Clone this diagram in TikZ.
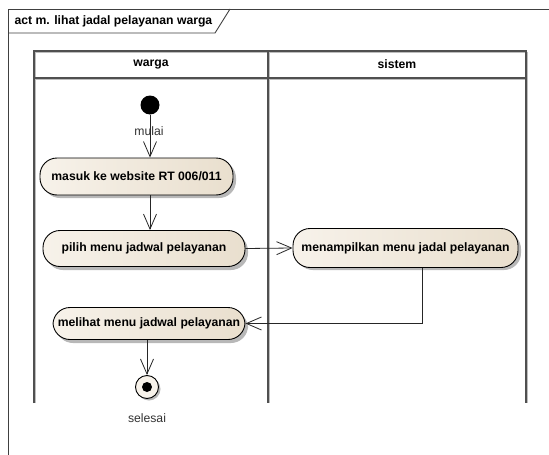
\documentclass[tikz,border=0pt]{standalone}
\usepackage{fontspec}
\setmainfont{Liberation Sans}
\usetikzlibrary{arrows.meta,calc}
\definecolor{actleft}{HTML}{F7F2EA}
\definecolor{actright}{HTML}{E9DFCE}
\definecolor{lanecol}{HTML}{505050}
\definecolor{laneshadow}{HTML}{BDBDBD}
\tikzset{
  txt/.style={font=\fontsize{12.2}{14}\selectfont},
  btxt/.style={font=\fontsize{12.2}{14}\selectfont\bfseries},
  action/.style={btxt, draw=black, line width=0.9pt, rectangle,
    rounded corners=17pt, left color=actleft, right color=actright,
    inner sep=0pt, minimum height=#1},
  action/.default=36pt,
  actshadow/.style={fill=black!28, rounded corners=17pt, draw=none},
  flow/.style={draw=black!85, line width=0.8pt,
    -{Straight Barb[length=15pt,width=13pt,line width=0.8pt]}},
  lane/.style={draw=lanecol, line width=1.6pt},
  lanesh/.style={draw=laneshadow, line width=1pt},
}
\begin{document}
\begin{tikzpicture}[x=1pt,y=-1pt]
\useasboundingbox (0,0) rectangle (549,455);
\fill[white] (0,0) rectangle (549,455);

% diagram frame and title tab
\draw[black!75, line width=0.9pt] (8,455) -- (8,9) -- (549,9);
\draw[black!75, line width=0.9pt] (8,33) -- (215,33) -- (230,9);
\node[btxt, anchor=west] (title) at (11,21) {act m. lihat jadal pelayanan warga};

% swimlanes
\draw[lanesh] (35.5,403) -- (35.5,52.5) -- (527.5,52.5) -- (527.5,403);
\draw[lanesh] (269.5,52.5) -- (269.5,403);
\draw[lanesh] (35.5,79.5) -- (527.5,79.5);
\draw[lane] (34,403) -- (34,51) -- (526,51) -- (526,403);
\draw[lane] (268,51) -- (268,403);
\draw[lane] (34,78) -- (526,78);
\node[btxt] (lwarga) at (151,64.5) {warga};
\node[btxt] (lsistem) at (397,64.5) {sistem};

% shadows behind the actions
\fill[actshadow] (43,161) rectangle (236,198);
\fill[actshadow] (46,234) rectangle (248,270);
\fill[actshadow] (296,232) rectangle (521,270);
\fill[actshadow] (56,311) rectangle (248,343);

% start node
\fill[black] (150,105) circle (9.5pt);
\coordinate (start) at (150,105);
\node[txt, text=black!80] (lmulai) at (149,131) {mulai};

% actions
\node[action=37pt, minimum width=193pt] (masuk) at (136.5,176.5) {masuk ke website RT 006/011};
\node[action=36pt, minimum width=202pt] (pilih) at (144,248.5) {pilih menu jadwal pelayanan};
\node[action=39pt, minimum width=225pt] (tampil) at (405.5,248) {menampilkan menu jadal pelayanan};
\node[action=32pt, minimum width=192pt] (lihat) at (149,323.5) {melihat menu jadwal pelayanan};

% end node
\coordinate (end) at (147,387);
\fill[black!28] (149,389) circle (11.5pt);
\draw[black, line width=0.9pt, fill=actleft] (end) circle (11.5pt);
\fill[black] (end) circle (5pt);
\node[txt, text=black!80] (lselesai) at (147,418) {selesai};

% control flow (shifts are in canvas units, where up is positive)
\draw[flow] ([yshift=-9.5pt]start) -- (start |- masuk.north);
\draw[flow] (masuk.south -| start) -- (pilih.north -| start);
\draw[flow] (pilih.east) -- (tampil.west);
\draw[flow] ([xshift=17pt]tampil.south) |- (lihat.east);
\draw[flow] (lihat.south -| end) -- ([yshift=12pt]end);
\end{tikzpicture}
\end{document}
